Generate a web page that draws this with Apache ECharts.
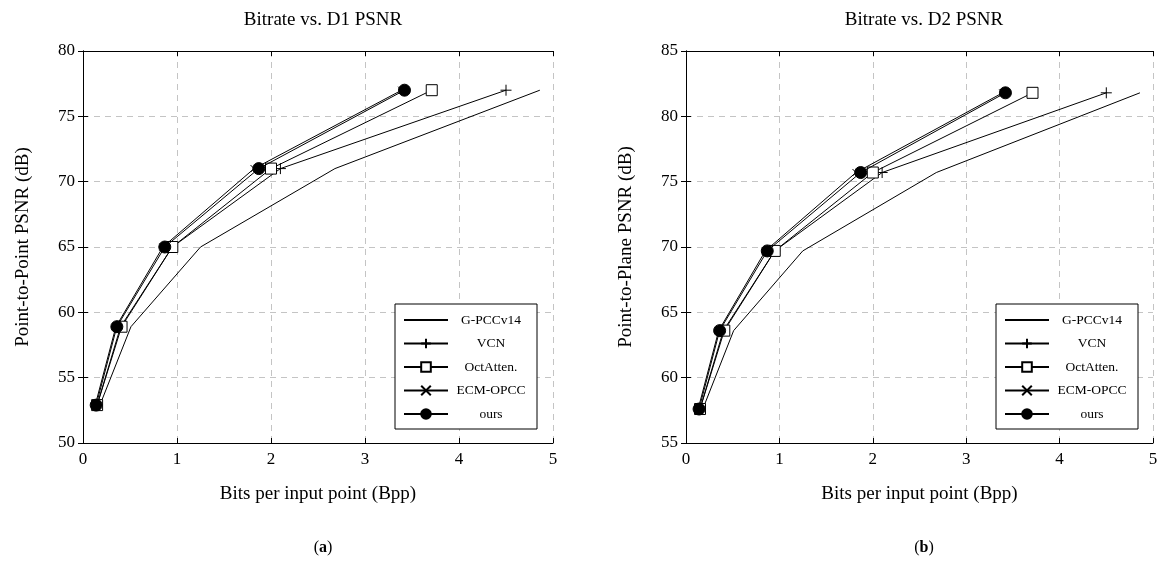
<!DOCTYPE html>
<html>
<head>
<meta charset="utf-8">
<script src="https://cdn.jsdelivr.net/npm/echarts@6/dist/echarts.min.js"></script>
<style>
html, body { margin: 0; padding: 0; background: #fff; }
#container { width: 1164px; height: 563px; }
</style>
</head>
<body>
<div id="container"></div>
<script>
var dom = document.getElementById('container');
var myChart = echarts.init(dom, null, { renderer: 'canvas' });

// bits per input point, per method
var bppGpcc = [0.18, 0.51, 1.25, 2.68, 4.86];
var bppVcn = [0.15, 0.40, 0.95, 2.10, 4.50];
var bppOct = [0.15, 0.41, 0.95, 2.00, 3.71];
var bppEcm = [0.13, 0.35, 0.85, 1.82, 3.39];
var bppOurs = [0.14, 0.36, 0.87, 1.87, 3.42];

// PSNR levels (same for every method)
var psnrD1 = [52.9, 58.9, 65.0, 71.0, 77.0];
var psnrD2 = [57.6, 63.6, 69.7, 75.7, 81.8];

var names = ['G-PCCv14', 'VCN', 'OctAtten.', 'ECM-OPCC', 'ours'];
var bpps = [bppGpcc, bppVcn, bppOct, bppEcm, bppOurs];

var serif = 'Liberation Serif';

var plusPath = 'path://M0,5L10,5M5,0L5,10';
var crossPath = 'path://M0,0L10,10M10,0L0,10';

// G-PCC has no marker: transparent circle, hidden on the line
var styles = [
    { symbol: 'circle', symbolSize: 1, fill: 'rgba(0,0,0,0)', border: 0, show: false },
    { symbol: plusPath, symbolSize: 11, fill: '#000', border: 1, show: true },
    { symbol: 'rect', symbolSize: 11, fill: '#fff', border: 1, show: true },
    { symbol: crossPath, symbolSize: 7, fill: '#000', border: 1, show: true },
    { symbol: 'circle', symbolSize: 12, fill: '#000', border: 1, show: true }
];

function zip(xs, ys) {
    return xs.map(function (x, i) { return [x, ys[i]]; });
}

function makeSeries(gridIdx, ys) {
    return names.map(function (n, i) {
        var st = styles[i];
        return {
            name: n,
            type: 'line',
            xAxisIndex: gridIdx * 2,
            yAxisIndex: gridIdx * 2,
            data: zip(bpps[i], ys),
            symbol: st.symbol,
            symbolSize: st.symbolSize,
            showSymbol: st.show,
            lineStyle: { color: '#000', width: 1 },
            itemStyle: { color: st.fill, borderColor: st.border ? '#000' : 'rgba(0,0,0,0)', borderWidth: st.border },
            emphasis: { disabled: true },
            animation: false,
            z: 2 + i
        };
    });
}

var gridLine = { show: true, lineStyle: { color: '#c4c4c4', type: [6, 5], width: 1 } };
var lbl = { color: '#000', fontFamily: serif, fontSize: 17 };

function xAxes(gi) {
    return [{
        gridIndex: gi, type: 'value', min: 0, max: 5, interval: 1,
        name: 'Bits per input point (Bpp)', nameLocation: 'middle', nameGap: 42,
        nameTextStyle: { color: '#000', fontFamily: serif, fontSize: 19 },
        axisLine: { show: true, lineStyle: { color: '#000' } },
        axisTick: { inside: true, length: 5, lineStyle: { color: '#000' } },
        axisLabel: Object.assign({ margin: 8 }, lbl),
        splitLine: gridLine
    }, {
        gridIndex: gi, type: 'value', min: 0, max: 5, interval: 1, position: 'top',
        axisLine: { show: true, lineStyle: { color: '#000' } },
        axisTick: { inside: true, length: 5, lineStyle: { color: '#000' } },
        axisLabel: { show: false }, splitLine: { show: false }
    }];
}

function yAxes(gi, min, max, title) {
    return [{
        gridIndex: gi, type: 'value', min: min, max: max, interval: 5,
        name: title, nameLocation: 'middle', nameGap: 50,
        nameTextStyle: { color: '#000', fontFamily: serif, fontSize: 19 },
        axisLine: { show: true, lineStyle: { color: '#000' } },
        axisTick: { inside: true, length: 5, lineStyle: { color: '#000' } },
        axisLabel: Object.assign({ margin: 8 }, lbl),
        splitLine: gridLine
    }, {
        gridIndex: gi, type: 'value', min: min, max: max, interval: 5, position: 'right',
        axisLine: { show: true, lineStyle: { color: '#000' } },
        axisTick: { inside: true, length: 5, lineStyle: { color: '#000' } },
        axisLabel: { show: false }, splitLine: { show: false }
    }];
}

function legendAt(left) {
    return {
        left: left, top: 304, orient: 'vertical',
        width: 145,
        itemWidth: 44, itemHeight: 12, itemGap: 9.5,
        padding: [9, 8, 8, 8],
        borderColor: '#000', borderWidth: 1, backgroundColor: '#fff',
        selectedMode: false,
        data: names,
        formatter: '{c|{name}}',
        textStyle: {
            color: '#000', fontFamily: serif, fontSize: 13.5, lineHeight: 14,
            rich: { c: { width: 76, align: 'center', lineHeight: 14, color: '#000', fontFamily: serif, fontSize: 13.5 } }
        }
    };
}

var titleStyle = { color: '#000', fontFamily: serif, fontSize: 19, fontWeight: 'normal' };
var capStyle = {
    color: '#000', fontFamily: serif, fontSize: 16, fontWeight: 'normal',
    rich: { b: { color: '#000', fontFamily: serif, fontSize: 16, fontWeight: 'bold' } }
};

option = {
    backgroundColor: '#fff',
    animation: false,
    title: [
        { text: 'Bitrate vs. D1 PSNR', left: 318, top: 6, textAlign: 'center', textStyle: titleStyle },
        { text: 'Bitrate vs. D2 PSNR', left: 919, top: 6, textAlign: 'center', textStyle: titleStyle },
        { text: '({b|a})', left: 318, top: 535, textAlign: 'center', textStyle: capStyle },
        { text: '({b|b})', left: 919, top: 535, textAlign: 'center', textStyle: capStyle }
    ],
    legend: [legendAt(395), legendAt(996)],
    grid: [
        { left: 83, right: 611, top: 51, bottom: 120 },
        { left: 686, right: 11, top: 51, bottom: 120 }
    ],
    xAxis: xAxes(0).concat(xAxes(1)),
    yAxis: yAxes(0, 50, 80, 'Point-to-Point PSNR (dB)').concat(yAxes(1, 55, 85, 'Point-to-Plane PSNR (dB)')),
    series: makeSeries(0, psnrD1).concat(makeSeries(1, psnrD2))
};

myChart.setOption(option);
</script>
</body>
</html>
